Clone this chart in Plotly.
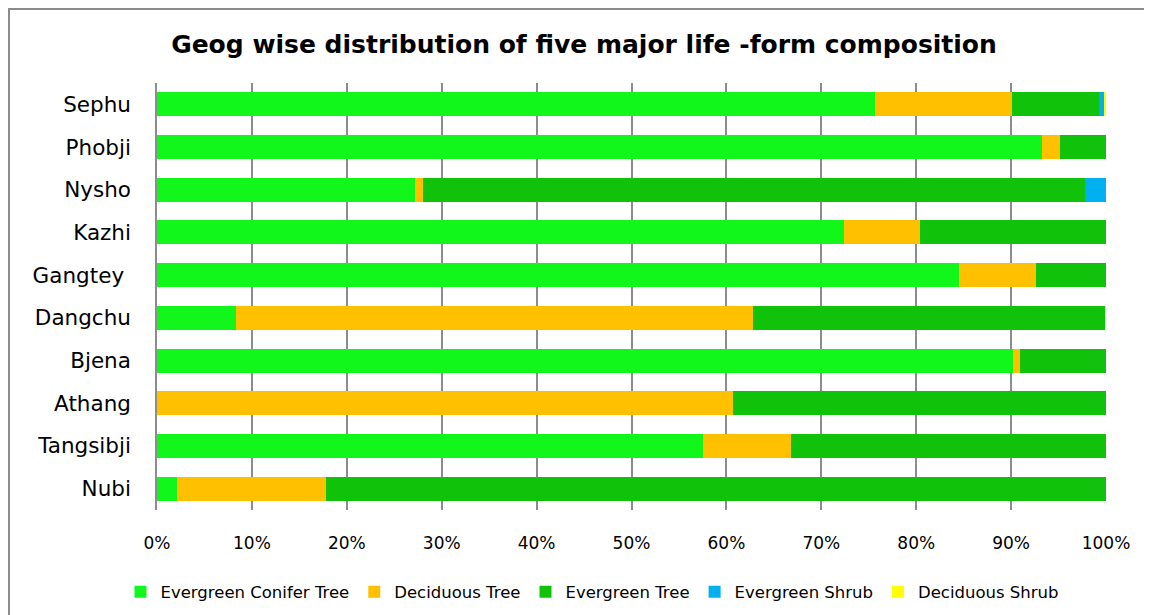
import plotly.graph_objects as go

categories = ["Sephu", "Phobji", "Nysho", "Kazhi", "Gangtey ", "Dangchu", "Bjena", "Athang", "Tangsibji", "Nubi"]
evergreen_conifer_tree = [75.7, 93.3, 27.2, 72.4, 84.5, 8.3, 90.2, 0.0, 57.5, 2.1]
deciduous_tree = [14.4, 1.8, 0.8, 8.0, 8.1, 54.5, 0.7, 60.7, 9.3, 15.7]
evergreen_tree = [9.2, 4.9, 69.8, 19.6, 7.4, 37.1, 9.1, 39.3, 33.2, 82.2]
evergreen_shrub = [0.5, 0.0, 2.2, 0.0, 0.0, 0.0, 0.0, 0.0, 0.0, 0.0]
deciduous_shrub = [0.2, 0.0, 0.0, 0.0, 0.0, 0.1, 0.0, 0.0, 0.0, 0.0]
tick_vals = [0, 10, 20, 30, 40, 50, 60, 70, 80, 90, 100]
tick_text = ["0%", "10%", "20%", "30%", "40%", "50%", "60%", "70%", "80%", "90%", "100%"]

series = [
    ("Evergreen Conifer Tree", evergreen_conifer_tree, "#12F71B"),
    ("Deciduous Tree", deciduous_tree, "#FFC000"),
    ("Evergreen Tree", evergreen_tree, "#10C30A"),
    ("Evergreen Shrub", evergreen_shrub, "#00B0F0"),
    ("Deciduous Shrub", deciduous_shrub, "#FFFF00"),
]

FONT = "DejaVu Sans"
W, H = 1144, 607  # page body has an 8px margin
fig = go.Figure()
for name, vals, color in series:
    fig.add_trace(go.Bar(
        y=categories, x=vals, name=name, orientation="h",
        marker=dict(color=color, line=dict(width=0)),
    ))

fig.update_layout(
    width=W, height=H,
    barmode="stack", bargap=0.44,
    paper_bgcolor="white", plot_bgcolor="white",
    margin=dict(l=149, r=46, t=75, b=105),
    title=dict(
        text="<b>Geog wise distribution of five major life -form composition</b>",
        font=dict(family=FONT, size=25, color="black"),
        x=576 / W, xref="container", xanchor="center",
        y=1 - 36 / H, yref="container", yanchor="middle",
    ),
    xaxis=dict(
        range=[0, 100], tickvals=tick_vals, ticktext=tick_text,
        showgrid=True, gridcolor="#8c8c8c", gridwidth=1.5,
        zeroline=False, showline=False, ticks="",
        ticklabelstandoff=21,
        tickfont=dict(family=FONT, size=17, color="black"),
        fixedrange=True,
    ),
    yaxis=dict(
        categoryorder="array", categoryarray=categories[::-1],
        showgrid=False, showline=True, linecolor="#8c8c8c", linewidth=1.5,
        ticks="", ticklabelstandoff=20,
        tickfont=dict(family=FONT, size=21.5, color="black"),
    ),
    legend=dict(
        orientation="h", xref="container", x=584 / W, xanchor="center",
        yref="container", y=1 - 584 / H, yanchor="middle",
        font=dict(family=FONT, size=16.5, color="black"),
        traceorder="normal", itemwidth=30,
    ),
    showlegend=True,
    shapes=[dict(
        type="rect", xref="paper", yref="paper",
        x0=(1 - 149) / 949, x1=(1137 - 149) / 949,
        y0=(502 - 640) / 427, y1=(502 - 1) / 427,
        line=dict(color="#8c8c8c", width=2), fillcolor="rgba(0,0,0,0)",
        layer="below",
    )],
)

fig.write_html("out.html")
